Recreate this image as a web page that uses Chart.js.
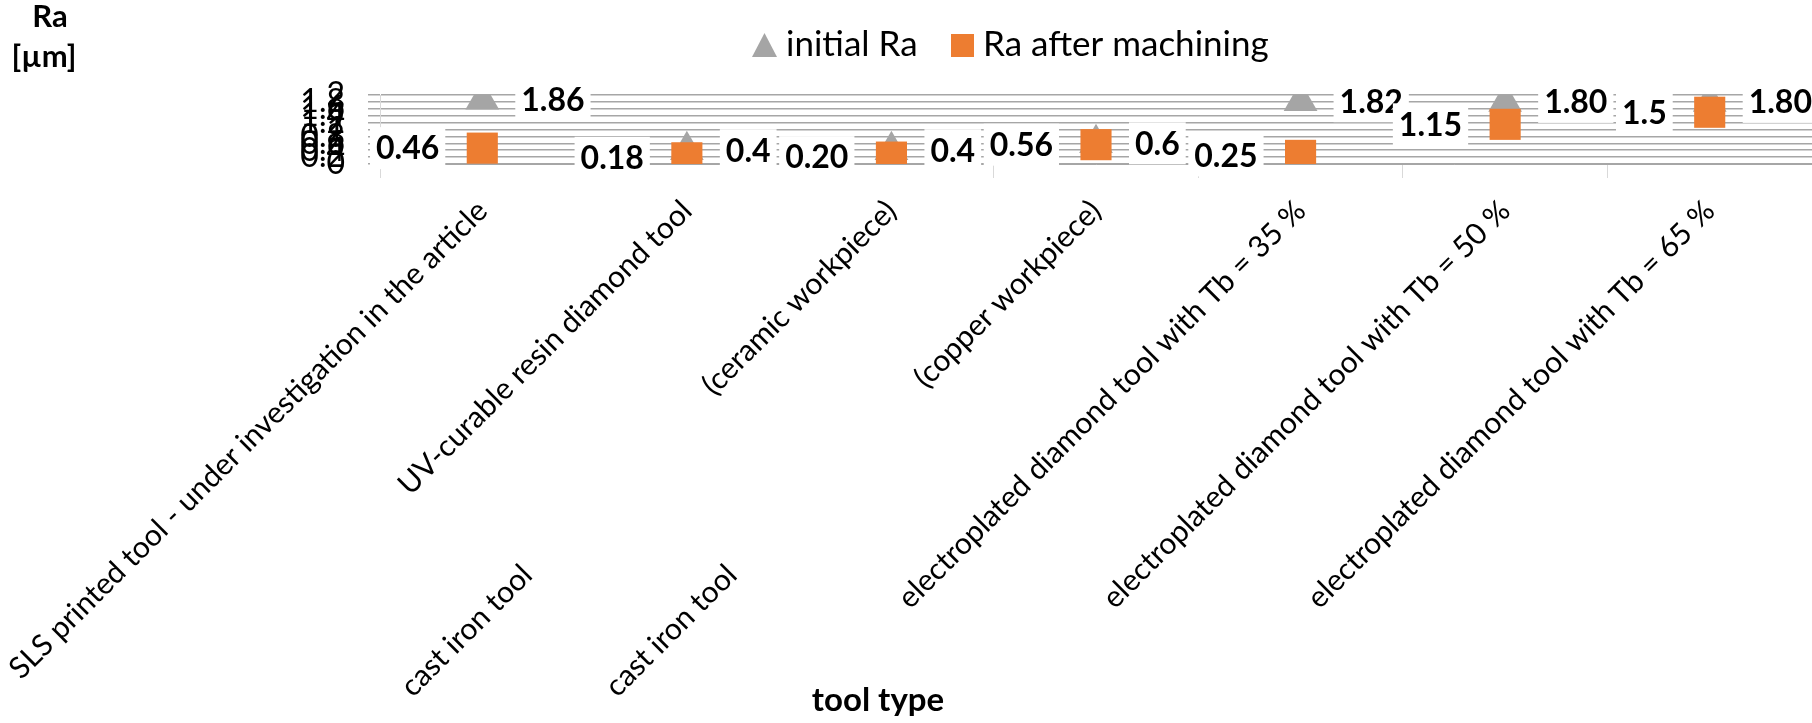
<!DOCTYPE html>
<html>
<head>
<meta charset="utf-8">
<script src="https://cdn.jsdelivr.net/npm/chart.js@4.4.1/dist/chart.umd.min.js"></script>
<style>
  html, body { margin: 0; padding: 0; background: #fff; }
  #wrap { width: 1812px; height: 723px; }
</style>
</head>
<body>
<div id="wrap"><canvas id="chart" width="1812" height="723"></canvas></div>
<script>
// categories (second part of a label is drawn on the same diagonal, further out)
const categories = [
  ['SLS printed tool - under investigation in the article'],
  ['UV-curable resin diamond tool'],
  ['cast iron tool', '(ceramic workpiece)'],
  ['cast iron tool', '(copper workpiece)'],
  ['electroplated diamond tool with Tb = 35 %'],
  ['electroplated diamond tool with Tb = 50 %'],
  ['electroplated diamond tool with Tb = 65 %']
];
const initialRa   = [1.86, 0.4, 0.4, 0.6, 1.82, 1.80, 1.80];
const afterRa     = [0.46, 0.18, 0.20, 0.56, 0.25, 1.15, 1.5];
const initialText = ['1.86', '0.4', '0.4', '0.6', '1.82', '1.80', '1.80'];
const afterText   = ['0.46', '0.18', '0.20', '0.56', '0.25', '1.15', '1.5'];
const yTicks      = [0, 0.2, 0.4, 0.6, 0.8, 1, 1.2, 1.4, 1.6, 1.8, 2];

const FONT = 'Lato, "Open Sans", sans-serif';
const GREY = '#a5a5a5';
const ORANGE = '#ed7d31';

// labels, legend and axis titles
const overlay = {
  id: 'overlay',
  afterDatasetsDraw(chart) {
    const ctx = chart.ctx;
    ctx.save();
    ctx.font = 'bold 32px ' + FONT;
    ctx.textBaseline = 'middle';
    const box = (text, x, y, align) => {
      const w = ctx.measureText(text).width;
      const left = align === 'left' ? x : x - w;
      ctx.fillStyle = '#fff';
      ctx.fillRect(left - 6, y - 21, w + 12, 42);
      ctx.fillStyle = '#000';
      ctx.textAlign = align;
      ctx.fillText(text, x, y + 1);
    };
    chart.getDatasetMeta(0).data.forEach((p, i) => box(initialText[i], p.x + 39, p.y, 'left'));
    chart.getDatasetMeta(1).data.forEach((p, i) => box(afterText[i], p.x - 43, p.y, 'right'));
    ctx.restore();
  },
  afterDraw(chart) {
    const ctx = chart.ctx;
    const xs = chart.scales.x;
    ctx.save();
    ctx.fillStyle = '#000';

    // category labels, rotated 45deg, ending at the tick
    ctx.font = '30px ' + FONT;
    ctx.textAlign = 'right';
    ctx.textBaseline = 'middle';
    categories.forEach((lines, i) => {
      const x = xs.getPixelForValue(i);
      ctx.save();
      ctx.translate(x, 206);
      ctx.rotate(-Math.PI / 4);
      const last = lines.length - 1;
      ctx.fillText(lines[last], 0, 0);
      if (last > 0) ctx.fillText(lines[0], -515, 0);
      ctx.restore();
    });

    // axis titles
    ctx.font = 'bold 31px ' + FONT;
    ctx.textAlign = 'center';
    ctx.textBaseline = 'alphabetic';
    ctx.fillText('Ra', 50, 27);
    ctx.fillText('[µm]', 44, 67);
    ctx.font = 'bold 33px ' + FONT;
    ctx.fillText('tool type', 878, 711);

    // legend
    ctx.font = '35px ' + FONT;
    ctx.textAlign = 'left';
    ctx.textBaseline = 'middle';
    ctx.fillStyle = GREY;
    ctx.beginPath();
    ctx.moveTo(752, 57); ctx.lineTo(777, 57); ctx.lineTo(764.5, 33); ctx.closePath();
    ctx.fill();
    ctx.fillStyle = '#000';
    ctx.fillText(chart.data.datasets[0].label, 786, 45);
    ctx.fillStyle = ORANGE;
    ctx.fillRect(951, 34, 23, 23);
    ctx.fillStyle = '#000';
    ctx.fillText(chart.data.datasets[1].label, 983, 45);
    ctx.restore();
  }
};

new Chart(document.getElementById('chart').getContext('2d'), {
  type: 'line',
  data: {
    labels: categories.map(c => c.join(' ')),
    datasets: [
      {
        label: 'initial Ra',
        data: initialRa,
        order: 2,
        showLine: false,
        pointStyle: 'triangle',
        pointRadius: 19.5,
        pointBackgroundColor: GREY,
        pointBorderColor: GREY,
        pointBorderWidth: 0
      },
      {
        label: 'Ra after machining',
        data: afterRa,
        order: 1,
        showLine: false,
        pointStyle: 'rect',
        pointRadius: 22,
        pointBackgroundColor: ORANGE,
        pointBorderColor: ORANGE,
        pointBorderWidth: 0
      }
    ]
  },
  options: {
    responsive: false,
    animation: false,
    devicePixelRatio: 1,
    layout: { padding: { top: 95, left: 0, right: 0, bottom: 0 }, autoPadding: false },
    plugins: { legend: { display: false }, tooltip: { enabled: false } },
    scales: {
      x: {
        offset: true,
        grid: { offset: true, drawOnChartArea: false, color: '#d9d9d9', tickLength: 14 },
        border: { color: '#a6a6a6' },
        ticks: { display: false },
        afterFit: s => { s.height = 723 - 164; }
      },
      y: {
        min: 0, max: 2,
        afterBuildTicks: s => { s.ticks = yTicks.map(v => ({ value: v })); },
        grid: { color: '#a6a6a6', lineWidth: 1.5, tickLength: 12 },
        border: { color: '#d9d9d9' },
        ticks: {
          autoSkip: false,
          padding: 23,
          color: '#000',
          font: { family: FONT, size: 32 },
          callback: v => String(v)
        },
        afterFit: s => { s.width = 380; }
      }
    }
  },
  plugins: [overlay]
});
</script>
</body>
</html>
